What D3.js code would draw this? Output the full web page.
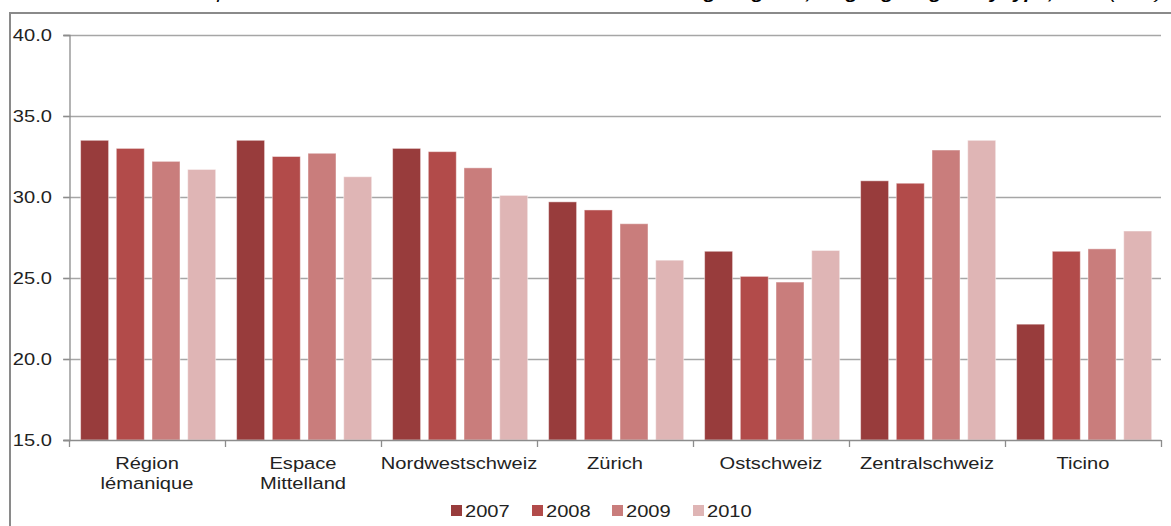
<!DOCTYPE html>
<html>
<head>
<meta charset="utf-8">
<script src="https://cdn.jsdelivr.net/npm/d3@7"></script>
<style>
  html, body { margin: 0; padding: 0; background: #fff; overflow: hidden; }
  svg { display: block; font-family: "Liberation Sans", Arial, sans-serif; }
</style>
</head>
<body>
<svg id="chart" width="1171" height="526"></svg>
<script>
// ---- data ----
const categories = ["Région\nlémanique", "Espace\nMittelland", "Nordwestschweiz", "Zürich", "Ostschweiz", "Zentralschweiz", "Ticino"];
const years = ["2007", "2008", "2009", "2010"];
const values2007 = [33.5, 33.5, 33.0, 29.7, 26.65, 31.0, 22.15];
const values2008 = [33.0, 32.5, 32.8, 29.2, 25.1, 30.85, 26.65];
const values2009 = [32.2, 32.7, 31.8, 28.35, 24.75, 32.9, 26.8];
const values2010 = [31.7, 31.25, 30.1, 26.1, 26.7, 33.5, 27.9];
const yTicks = [15, 20, 25, 30, 35, 40];
const colors = ["#983c3c", "#b24b4a", "#c97d7c", "#dfb5b5"];

const series = [values2007, values2008, values2009, values2010];

const svg = d3.select("#chart");
const SX = 1.22; // horizontal stretch of text as in the reference
const textColor = "#222";
const axisColor = "#8c8c8c";

// outer frame
svg.append("path")
  .attr("d", "M10,540 L10,13 L1175,13")
  .attr("fill", "none").attr("stroke", "#8a8a8a").attr("stroke-width", 2);

// title, cut off by the top edge as in the reference (only descenders visible)
const title = svg.append("text")
  .attr("transform", `translate(1162,-1) scale(${SX},1)`)
  .attr("text-anchor", "end")
  .attr("font-size", 16.5)
  .attr("font-style", "italic")
  .attr("fill", "#000");
title.append("tspan").text("G 4 Proportion of the workforce in the cantons of the seven ");
title.append("tspan").attr("font-weight", "bold").text("large regions, language region by type, 2010 ");
title.append("tspan").text("(in %)");

// scales
const x0 = d3.scaleBand().domain(categories).range([69, 1161]).paddingInner(0).paddingOuter(0);
const x1 = d3.scaleBand().domain(years).range([11.6, 146.7]).paddingInner(0.216).paddingOuter(0);
const y = d3.scaleLinear().domain([15, 40]).range([440, 35]);

// gridlines
svg.append("g").selectAll("line")
  .data(yTicks.filter(d => d > 15))
  .join("line")
  .attr("x1", 63).attr("x2", 1161)
  .attr("y1", d => Math.round(y(d)) + 0.5).attr("y2", d => Math.round(y(d)) + 0.5)
  .attr("stroke", "#a6a6a6").attr("stroke-width", 1.3);

// bars
const groups = svg.append("g").selectAll("g")
  .data(categories)
  .join("g")
  .attr("transform", d => `translate(${x0(d)},0)`);

groups.selectAll("rect")
  .data((c, i) => years.map((yr, k) => ({ yr, k, v: series[k][i] })))
  .join("rect")
  .attr("x", d => x1(d.yr))
  .attr("width", x1.bandwidth())
  .attr("y", d => y(d.v))
  .attr("height", d => y(15) - y(d.v))
  .attr("fill", d => colors[d.k])
  .attr("stroke", "rgba(255,255,255,0.45)")
  .attr("stroke-width", 1);

// y axis
const yAxis = d3.axisLeft(y).tickValues(yTicks).tickSize(6).tickFormat(d3.format(".1f"));
const gy = svg.append("g").attr("transform", "translate(69.5,0)").call(yAxis);
gy.select(".domain").attr("stroke", axisColor).attr("stroke-width", 1.3);
gy.selectAll(".tick line").attr("stroke", axisColor).attr("stroke-width", 1.3);
gy.selectAll(".tick text").remove();
svg.append("g").selectAll("text")
  .data(yTicks)
  .join("text")
  .attr("transform", d => `translate(52,${y(d) + 6}) scale(${SX},1)`)
  .attr("text-anchor", "end")
  .attr("font-size", 16.5)
  .attr("fill", textColor)
  .text(d3.format(".1f"));

// x axis
const boundaries = categories.map(c => x0(c)).concat([1161]);
const gx = svg.append("g");
gx.append("line").attr("x1", 63).attr("x2", 1161).attr("y1", 440.5).attr("y2", 440.5)
  .attr("stroke", axisColor).attr("stroke-width", 1.3);
gx.selectAll("line.tk").data(boundaries).join("line").attr("class", "tk")
  .attr("x1", d => d + 0.5).attr("x2", d => d + 0.5).attr("y1", 440).attr("y2", 447)
  .attr("stroke", axisColor).attr("stroke-width", 1.3);

const labels = svg.append("g").selectAll("text")
  .data(categories)
  .join("text")
  .attr("transform", d => `translate(${x0(d) + x0.bandwidth() / 2},469) scale(${SX},1)`)
  .attr("text-anchor", "middle")
  .attr("font-size", 16.5)
  .attr("fill", textColor);
labels.each(function(d) {
  const lines = d.split("\n");
  d3.select(this).selectAll("tspan").data(lines).join("tspan")
    .attr("x", 0).attr("dy", (l, i) => i === 0 ? 0 : 20).text(l => l);
});

// legend
const legendX = [451, 532, 612, 693];
const lg = svg.append("g").selectAll("g").data(years).join("g")
  .attr("transform", (d, i) => `translate(${legendX[i]},505)`);
lg.append("rect").attr("width", 11).attr("height", 11).attr("fill", (d, i) => colors[i]);
lg.append("text")
  .attr("transform", `translate(14,11.5) scale(${SX},1)`)
  .attr("font-size", 16.5)
  .attr("fill", textColor)
  .text(d => d);
</script>
</body>
</html>
